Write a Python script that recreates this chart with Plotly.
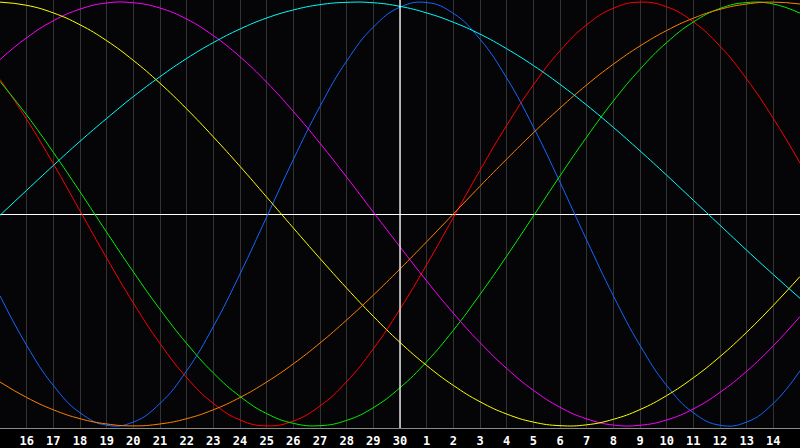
import plotly.graph_objects as go

# days shown on the axis, 15th of one month to the 15th of the next
day_labels = ["16", "17", "18", "19", "20", "21", "22", "23", "24", "25", "26",
              "27", "28", "29", "30", "1", "2", "3", "4", "5", "6", "7", "8",
              "9", "10", "11", "12", "13", "14"]
day_index = list(range(31))
today = 15

# cycle values, one per day (-1 .. 1)
physical = [-0.386, -0.620, -0.809, -0.938, -0.997, -0.982, -0.894, -0.740, -0.531,
            -0.283, -0.014, 0.257, 0.508, 0.722, 0.882, 0.976, 0.998, 0.947, 0.825,
            0.642, 0.411, 0.150, -0.123, -0.386, -0.620, -0.809, -0.938, -0.997,
            -0.982, -0.894, -0.740]
emotional = [0.635, 0.447, 0.237, 0.015, -0.208, -0.420, -0.611, -0.772, -0.894,
             -0.972, -1.000, -0.977, -0.906, -0.791, -0.636, -0.449, -0.239,
             -0.017, 0.206, 0.418, 0.609, 0.770, 0.893, 0.971, 1.000, 0.978,
             0.907, 0.792, 0.637, 0.451, 0.241]
intellectual = [0.626, 0.467, 0.291, 0.105, -0.086, -0.273, -0.450, -0.611, -0.750,
                -0.861, -0.942, -0.988, -0.999, -0.974, -0.914, -0.820, -0.697,
                -0.549, -0.380, -0.199, -0.010, 0.180, 0.363, 0.533, 0.683, 0.809,
                0.906, 0.970, 0.998, 0.991, 0.948]
intuitive = [0.729, 0.832, 0.912, 0.967, 0.996, 0.997, 0.972, 0.920, 0.842, 0.742,
             0.622, 0.484, 0.334, 0.174, 0.009, -0.155, -0.316, -0.468, -0.607,
             -0.729, -0.832, -0.912, -0.967, -0.996, -0.997, -0.972, -0.920,
             -0.842, -0.742, -0.622, -0.484]
aesthetic = [1.000, 0.985, 0.949, 0.893, 0.818, 0.725, 0.617, 0.496, 0.364, 0.225,
             0.080, -0.066, -0.210, -0.350, -0.483, -0.606, -0.715, -0.809, -0.886,
             -0.944, -0.982, -0.999, -0.995, -0.969, -0.923, -0.857, -0.773,
             -0.673, -0.558, -0.431, -0.295]
awareness = [-0.793, -0.866, -0.924, -0.966, -0.991, -1.000, -0.991, -0.966, -0.924,
             -0.866, -0.793, -0.707, -0.609, -0.500, -0.383, -0.259, -0.131, 0.000,
             0.131, 0.259, 0.383, 0.500, 0.609, 0.707, 0.793, 0.866, 0.924, 0.966,
             0.991, 1.000, 0.991]
spiritual = [-0.006, 0.112, 0.229, 0.343, 0.451, 0.554, 0.648, 0.734, 0.809, 0.873,
             0.925, 0.963, 0.988, 0.999, 0.997, 0.980, 0.949, 0.905, 0.849, 0.780,
             0.701, 0.612, 0.514, 0.409, 0.298, 0.183, 0.065, -0.053, -0.171,
             -0.286, -0.398]

series = [
    ("Physical", physical, "#1466ff"),
    ("Emotional", emotional, "#ff0000"),
    ("Intellectual", intellectual, "#00f000"),
    ("Intuitive", intuitive, "#ff00ff"),
    ("Aesthetic", aesthetic, "#ffff00"),
    ("Awareness", awareness, "#ff8000"),
    ("Spiritual", spiritual, "#00ffff"),
]

fig = go.Figure()
for name, values, color in series:
    fig.add_trace(go.Scatter(
        x=day_index,
        y=values,
        name=name,
        mode="lines",
        line=dict(color=color, width=1, shape="spline", smoothing=1.3),
        hoverinfo="skip",
    ))

fig.add_vline(x=today, line=dict(color="#ffffff", width=1.3))

fig.update_layout(
    width=800,
    height=448,
    margin=dict(l=0, r=0, t=0, b=20),
    plot_bgcolor="#050508",
    paper_bgcolor="#000000",
    showlegend=False,
    xaxis=dict(
        range=[0, 30],
        tickvals=day_index[1:30],
        ticktext=day_labels,
        showgrid=True,
        gridcolor="#333333",
        gridwidth=1,
        zeroline=False,
        showline=True,
        mirror=True,
        linecolor="#8a8a8a",
        linewidth=1,
        ticks="",
        ticklabelstandoff=2,
        tickfont=dict(family="DejaVu Sans Mono", size=12, color="#ffffff", weight="bold"),
        fixedrange=True,
    ),
    yaxis=dict(
        range=[-1.01, 1.01],
        showgrid=False,
        showticklabels=False,
        zeroline=True,
        zerolinecolor="#ffffff",
        zerolinewidth=1.3,
        showline=True,
        linecolor="#8a8a8a",
        linewidth=1,
        ticks="",
        fixedrange=True,
    ),
)

# drop the page's default body margin so the chart fills the window
fig.write_html(
    "out.html",
    config={"displayModeBar": False},
    post_script="document.body.style.margin='0';document.body.style.background='#000';",
)
